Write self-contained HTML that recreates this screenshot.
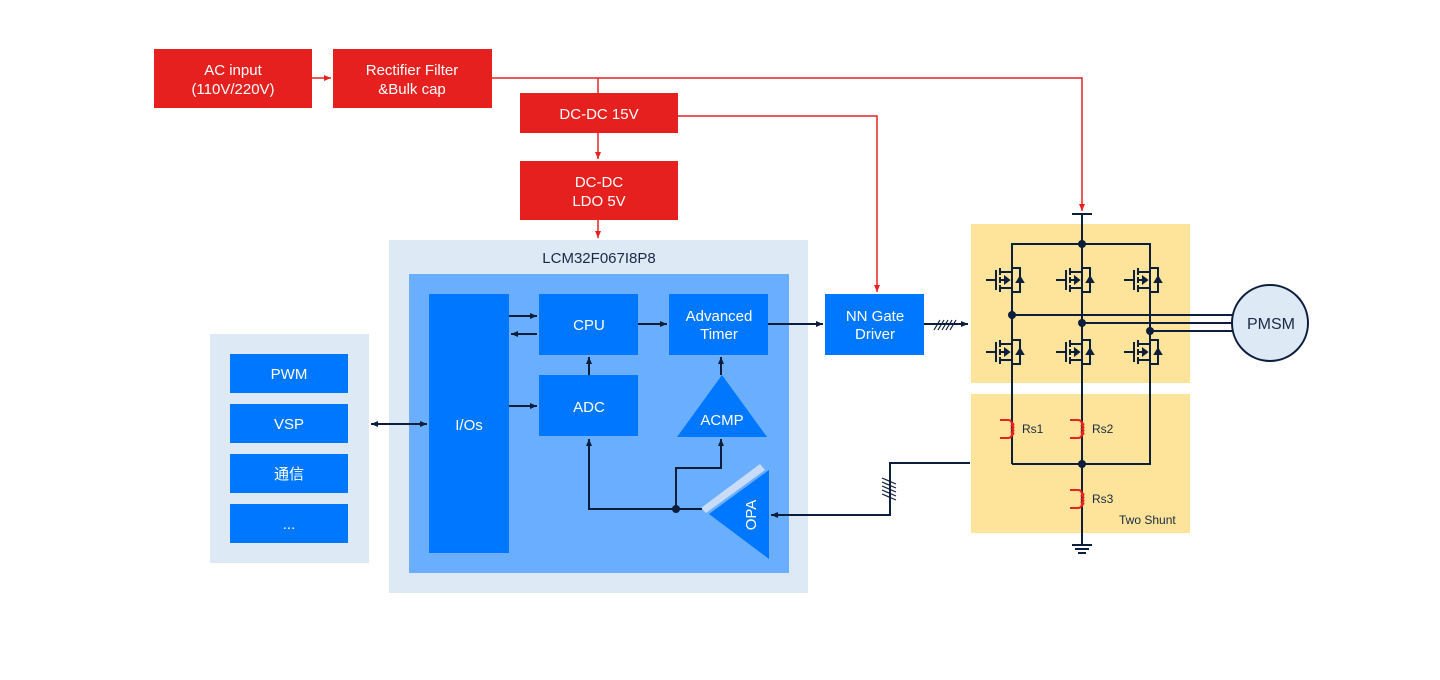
<!DOCTYPE html>
<html><head><meta charset="utf-8"><style>
html,body{margin:0;padding:0;background:#fff;}
svg{display:block;font-family:"Liberation Sans","Noto Sans CJK SC",sans-serif;}
</style></head><body>
<svg width="1440" height="680" viewBox="0 0 1440 680" xmlns="http://www.w3.org/2000/svg">
<defs>
<marker id="ar" markerWidth="8" markerHeight="8" refX="7" refY="4" orient="auto" markerUnits="userSpaceOnUse"><path d="M0,1 L7,4 L0,7 Z" fill="#0d1e3d"/></marker>
<marker id="arr" markerWidth="8" markerHeight="8" refX="7" refY="4" orient="auto" markerUnits="userSpaceOnUse"><path d="M0,1 L7,4 L0,7 Z" fill="#e62222"/></marker>
<marker id="as" markerWidth="8" markerHeight="8" refX="1" refY="4" orient="auto" markerUnits="userSpaceOnUse"><path d="M8,1 L1,4 L8,7 Z" fill="#0d1e3d"/></marker>
<g id="fet" fill="none" stroke="#0d1e3d" stroke-width="2">
<path d="M-26,0 H-16 M-16,-10 V10 M-12,-12 V-5 M-12,-3 V3 M-12,5 V12 M-12,-8 H0 M-12,8 H0 M-12,0 H-3"/>
<path d="M0,-12 H8 V12 H0"/>
<path d="M-3,0 l-4,-3 v6 z" fill="#0d1e3d"/>
<path d="M8,-3 l-3,5 h6 z" fill="#0d1e3d"/>
</g>
<g id="rs" fill="none" stroke="#e62222" stroke-width="2">
<path d="M-12,-9 H-4 Q0,-9 0,-4 M-12,9 H-4 Q0,9 0,4"/>
<path d="M0,-6 q3,1.5 0,3 q3,1.5 0,3 q3,1.5 0,3 q3,1.5 0,3" />
</g>
</defs>

<g stroke="#e62222" stroke-width="1.5" fill="none">
<line x1="312" y1="78" x2="331" y2="78" marker-end="url(#arr)"/>
<polyline points="492,78 1082,78 1082,211" marker-end="url(#arr)"/>
<line x1="598" y1="78" x2="598" y2="93"/>
<polyline points="678,116 877,116 877,292" marker-end="url(#arr)"/>
<line x1="598" y1="133" x2="598" y2="159" marker-end="url(#arr)"/>
<line x1="598" y1="220" x2="598" y2="238" marker-end="url(#arr)"/>
</g>

<g fill="#e61f1f">
<rect x="154" y="49" width="158" height="59"/>
<rect x="333" y="49" width="159" height="59"/>
<rect x="520" y="93" width="158" height="40"/>
<rect x="520" y="161" width="158" height="59"/>
</g>
<g fill="#fff" font-size="15" text-anchor="middle">
<text x="233" y="75">AC input</text><text x="233" y="94">(110V/220V)</text>
<text x="412" y="75">Rectifier Filter</text><text x="412" y="94">&amp;Bulk cap</text>
<text x="599" y="119">DC-DC 15V</text>
<text x="599" y="187">DC-DC</text><text x="599" y="206">LDO 5V</text>
</g>

<rect x="389" y="240" width="419" height="353" fill="#dde9f5"/>
<text x="599" y="263" font-size="15" fill="#1a2a44" text-anchor="middle">LCM32F067I8P8</text>
<rect x="409" y="274" width="380" height="299" fill="#6aaeff"/>
<g fill="#0077ff">
<rect x="429" y="294" width="80" height="259"/>
<rect x="539" y="294" width="99" height="61"/>
<rect x="539" y="375" width="99" height="61"/>
<rect x="669" y="294" width="99" height="61"/>
<polygon points="722,375 677,437 767,437"/>
<rect x="825" y="294" width="99" height="61"/>
<polygon points="709,514 769,470 769,559"/>
</g>
<polygon points="701,508 760,464 765,470 706,513" fill="#c9dcf7"/>
<g fill="#fff" font-size="15" text-anchor="middle">
<text x="469" y="430">I/Os</text>
<text x="589" y="330">CPU</text>
<text x="589" y="412">ADC</text>
<text x="719" y="321">Advanced</text><text x="719" y="339">Timer</text>
<text x="722" y="425">ACMP</text>
<text x="875" y="321">NN Gate</text><text x="875" y="339">Driver</text>
<text x="0" y="0" transform="translate(756,515) rotate(-90)">OPA</text>
</g>

<rect x="210" y="334" width="159" height="229" fill="#dde9f5"/>
<g fill="#0077ff">
<rect x="230" y="354" width="118" height="39"/>
<rect x="230" y="404" width="118" height="39"/>
<rect x="230" y="454" width="118" height="39"/>
<rect x="230" y="504" width="118" height="39"/>
</g>
<g fill="#fff" font-size="15" text-anchor="middle">
<text x="289" y="379">PWM</text><text x="289" y="429">VSP</text><text x="289" y="479">通信</text><text x="289" y="529">...</text>
</g>

<g stroke="#0d1e3d" stroke-width="2" fill="none">
<line x1="371" y1="424" x2="427" y2="424" marker-end="url(#ar)" marker-start="url(#as)"/>
<line x1="509" y1="316" x2="537" y2="316" marker-end="url(#ar)"/>
<line x1="537" y1="334" x2="511" y2="334" marker-end="url(#ar)"/>
<line x1="509" y1="406" x2="537" y2="406" marker-end="url(#ar)"/>
<line x1="589" y1="375" x2="589" y2="357" marker-end="url(#ar)"/>
<line x1="721" y1="375" x2="721" y2="357" marker-end="url(#ar)"/>
<line x1="638" y1="324" x2="667" y2="324" marker-end="url(#ar)"/>
<line x1="768" y1="324" x2="823" y2="324" marker-end="url(#ar)"/>
<line x1="924" y1="324" x2="968" y2="324" marker-end="url(#ar)"/>
<polyline points="702,509 589,509 589,439" marker-end="url(#ar)"/>
<polyline points="676,509 676,468 721,468 721,439" marker-end="url(#ar)"/>
<polyline points="970,463 890,463 890,515 771,515" marker-end="url(#ar)"/>
</g>
<circle cx="676" cy="509" r="4" fill="#0d1e3d"/>
<g stroke="#0d1e3d" stroke-width="1.2">
<path d="M934,330 l6,-10 M938,330 l6,-10 M942,330 l6,-10 M946,330 l6,-10 M950,330 l6,-10"/>
<path d="M882,478 l14,6 M882,482 l14,6 M882,486 l14,6 M882,490 l14,6 M882,494 l14,6"/>
</g>

<rect x="971" y="224" width="219" height="159" fill="#fde49a"/>
<rect x="971" y="394" width="219" height="139" fill="#fde49a"/>
<g stroke="#0d1e3d" stroke-width="2" fill="none">
<line x1="1072" y1="214" x2="1092" y2="214"/>
<line x1="1082" y1="214" x2="1082" y2="244"/>
<polyline points="1012,464 1012,244 1150,244 1150,464 1012,464"/>
<line x1="1082" y1="244" x2="1082" y2="545"/>
<line x1="1012" y1="315" x2="1234" y2="315"/>
<line x1="1082" y1="323" x2="1232" y2="323"/>
<line x1="1150" y1="331" x2="1234" y2="331"/>
<path d="M1072,545 h20 M1075,549 h14 M1078,553 h8"/>
</g>
<g fill="#0d1e3d">
<circle cx="1082" cy="244" r="4"/><circle cx="1012" cy="315" r="4"/><circle cx="1082" cy="323" r="4"/><circle cx="1150" cy="331" r="4"/><circle cx="1082" cy="464" r="4"/>
</g>
<use href="#fet" x="1012" y="280"/><use href="#fet" x="1082" y="280"/><use href="#fet" x="1150" y="280"/>
<use href="#fet" x="1012" y="352"/><use href="#fet" x="1082" y="352"/><use href="#fet" x="1150" y="352"/>
<use href="#rs" x="1012" y="429"/><use href="#rs" x="1082" y="429"/><use href="#rs" x="1082" y="499"/>
<g font-size="12" fill="#1a2a44">
<text x="1022" y="433">Rs1</text><text x="1092" y="433">Rs2</text><text x="1092" y="503">Rs3</text>
<text x="1119" y="524">Two Shunt</text>
</g>
<circle cx="1270" cy="323" r="38" fill="#dde9f5" stroke="#0d1e3d" stroke-width="2"/>
<text x="1271" y="329" font-size="16" fill="#1a2a44" text-anchor="middle">PMSM</text>
</svg>
</body></html>
